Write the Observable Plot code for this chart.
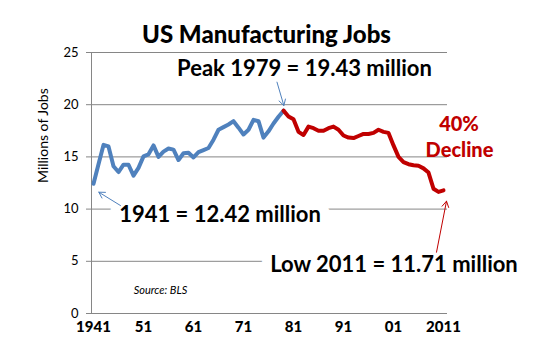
<!DOCTYPE html>
<html>
<head>
<meta charset="utf-8">
<script src="https://cdn.jsdelivr.net/npm/d3@7"></script>
<script src="https://cdn.jsdelivr.net/npm/@observablehq/plot@0.6"></script>
<style>
  html, body { margin: 0; padding: 0; background: #fff; }
  #chart { width: 559px; height: 354px; }
</style>
</head>
<body>
<div id="chart"></div>
<script>
// ---- data ----
const blueYears = [1941,1942,1943,1944,1945,1946,1947,1948,1949,1950,1951,1952,1953,1954,1955,1956,1957,1958,1959,1960,1961,1962,1963,1964,1965,1966,1967,1968,1969,1970,1971,1972,1973,1974,1975,1976,1977,1978,1979];
const blueJobs  = [12.42,14.3,16.15,16.0,14.1,13.55,14.25,14.25,13.2,13.95,15.05,15.25,16.1,15.0,15.5,15.8,15.7,14.7,15.35,15.4,14.95,15.45,15.65,15.85,16.65,17.6,17.85,18.1,18.42,17.8,17.15,17.6,18.55,18.42,16.85,17.45,18.2,18.85,19.43];
const redYears  = [1979,1980,1981,1982,1983,1984,1985,1986,1987,1988,1989,1990,1991,1992,1993,1994,1995,1996,1997,1998,1999,2000,2001,2002,2003,2004,2005,2006,2007,2008,2009,2010,2011];
const redJobs   = [19.43,18.87,18.6,17.4,17.1,17.9,17.75,17.5,17.5,17.75,17.9,17.6,17.05,16.85,16.8,17.0,17.2,17.2,17.3,17.6,17.4,17.3,16.1,15.0,14.5,14.3,14.2,14.15,13.9,13.5,11.95,11.65,11.8];

const xDomain = [1940.6, 2011.8];
const yTicks = [0, 5, 10, 15, 20, 25];
const xTickYears = [1941, 1951, 1961, 1971, 1981, 1991, 2001, 2011];
const xTickLabels = ["1941", "51", "61", "71", "81", "91", "01", "2011"];

const title = "US Manufacturing Jobs";
const yLabel = "Millions of Jobs";

// annotation text: [year, value, text]
const haloNotes = [
  {x: 1966.3, y: 9.48, text: "1941 = 12.42 million"},
  {x: 2001.1, y: 4.65, text: "Low 2011 = 11.71 million"}
];
const plainNotes = [
  {x: 1983.2, y: 23.47, text: "Peak 1979 = 19.43 million"}
];
const declineNotes = [
  {x: 2014.1, y: 18.1, text: "40%"},
  {x: 2014.2, y: 15.6, text: "Decline"}
];
const sourceNote = [{x: 1954.4, y: 2.2, text: "Source: BLS"}];

const blueArrows = [
  {x1: 1977.7, y1: 22.16, x2: 1979.07, y2: 19.92},
  {x1: 1946.4, y1: 10.34, x2: 1942.06, y2: 11.62}
];
const redArrows = [
  {x1: 2009.6, y1: 5.87, x2: 2011.6, y2: 10.76}
];

const BLUE = "#4F81BD", RED = "#C00000", GRID = "#868686";
const blue = blueYears.map((yr, i) => ({year: yr, jobs: blueJobs[i]}));
const red = redYears.map((yr, i) => ({year: yr, jobs: redJobs[i]}));

const annFont = "Lato, 'Open Sans', sans-serif";
const heavyFont = "Lato, 'DejaVu Sans', sans-serif";

const chart = Plot.plot({
  width: 559,
  height: 354,
  marginLeft: 91,
  marginRight: 112,
  marginTop: 52,
  marginBottom: 41,
  x: {domain: xDomain},
  y: {domain: [0, 25]},
  style: {background: "#fff", fontFamily: annFont, overflow: "visible"},
  marks: [
    Plot.ruleY(yTicks, {stroke: GRID, strokeWidth: 1}),
    Plot.ruleX([xDomain[0]], {stroke: GRID, strokeWidth: 1}),
    Plot.axisY({ticks: yTicks, tickSize: 5, tickPadding: 8, stroke: GRID, fontSize: 13, fill: "#000", label: null}),
    Plot.axisX({ticks: xTickYears, tickFormat: (d) => xTickLabels[xTickYears.indexOf(d)], tickSize: 0, tickPadding: 8,
      fontSize: 15, fontWeight: 900, fontFamily: heavyFont, fill: "#000", label: null}),
    Plot.text([yLabel], {frameAnchor: "left", dx: -48, rotate: -90, fontSize: 14, fill: "#000"}),
    Plot.text([title], {frameAnchor: "top", dx: -3, dy: -27, fontSize: 24, fontWeight: 900, fontFamily: heavyFont, fill: "#000"}),
    Plot.text(haloNotes, {x: "x", y: "y", text: "text", fontSize: 22, fontWeight: 700, fill: "#000", stroke: "#fff", strokeWidth: 20}),
    Plot.text(plainNotes, {x: "x", y: "y", text: "text", fontSize: 22, fontWeight: 700, fill: "#000"}),
    Plot.text(declineNotes, {x: "x", y: "y", text: "text", fontSize: 20, fontWeight: 900, fontFamily: heavyFont, fill: RED}),
    Plot.text(sourceNote, {x: "x", y: "y", text: "text", fontSize: 11, fontStyle: "italic", fill: "#000"}),
    Plot.line(blue, {x: "year", y: "jobs", stroke: BLUE, strokeWidth: 4, strokeLinejoin: "round"}),
    Plot.line(red, {x: "year", y: "jobs", stroke: RED, strokeWidth: 4, strokeLinejoin: "round"}),
    Plot.arrow(blueArrows, {x1: "x1", y1: "y1", x2: "x2", y2: "y2", stroke: BLUE, strokeWidth: 1, headLength: 10}),
    Plot.arrow(redArrows, {x1: "x1", y1: "y1", x2: "x2", y2: "y2", stroke: RED, strokeWidth: 1, headLength: 10})
  ]
});
document.getElementById("chart").appendChild(chart);
</script>
</body>
</html>
